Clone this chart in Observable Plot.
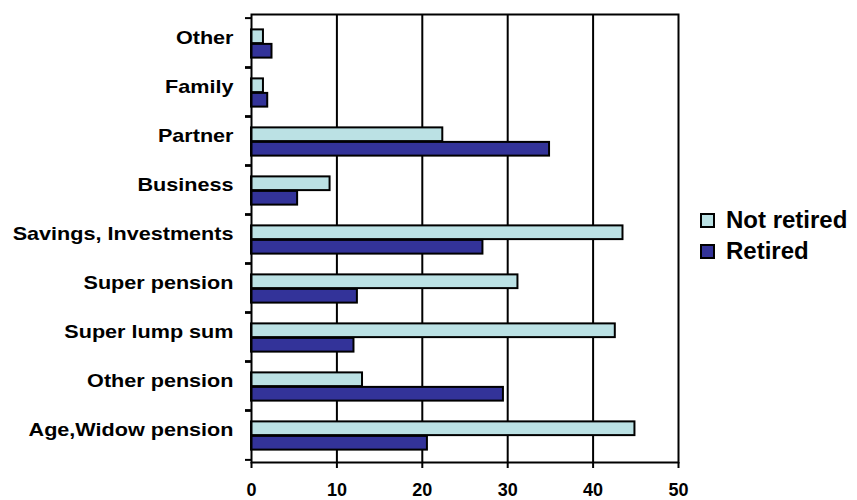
<!DOCTYPE html>
<html>
<head>
<meta charset="utf-8">
<script src="https://cdn.jsdelivr.net/npm/d3@7"></script>
<script src="https://cdn.jsdelivr.net/npm/@observablehq/plot@0.6"></script>
<style>
  html, body { margin: 0; padding: 0; background: #fff; }
  #wrap { position: relative; width: 857px; height: 500px; font-family: "Liberation Sans", Arial, sans-serif; }
  .legend { position: absolute; left: 700px; top: 204px; }
  .legend .row { display: flex; align-items: center; height: 31px; font-weight: bold; font-size: 24px; color: #000; }
  .legend .sw { width: 11px; height: 11px; border: 2px solid #000; margin-right: 11px; flex: none; position: relative; top: 1px; }
</style>
</head>
<body>
<div id="wrap"></div>
<script>
// Income sources, listed top to bottom
const categories = [
  "Other", "Family", "Partner", "Business", "Savings, Investments",
  "Super pension", "Super lump sum", "Other pension", "Age,Widow pension"
];
const notRetired = [1.4, 1.4, 22.4, 9.2, 43.5, 31.2, 42.6, 13.0, 44.9];
const retired    = [2.4, 1.9, 34.9, 5.4, 27.1, 12.4, 12.0, 29.5, 20.6];
const seriesNames = ["Not retired", "Retired"];
const seriesColors = ["#BBE1E4", "#333399"];
const xTicks = [0, 10, 20, 30, 40, 50];

const rows = categories.map((c, i) => ({category: c, notRetired: notRetired[i], retired: retired[i]}));

const W = 857, H = 500;
const mt = 14, mb = 38, ml = 251, mr = 179;
const band = (H - mt - mb) / categories.length;   // one category row
const barH = 14.5;                                 // one bar's thickness
const shift = 1;                                   // pair sits slightly below centre

const font = {fontFamily: "Liberation Sans, Arial, sans-serif"};

const chart = Plot.plot({
  width: W,
  height: H,
  marginTop: mt,
  marginBottom: mb,
  marginLeft: ml,
  marginRight: mr,
  style: {fontFamily: font.fontFamily, color: "#000", background: "#fff"},
  x: {domain: [0, 50], ticks: xTicks},
  y: {domain: categories, padding: 0},
  marks: [
    Plot.gridX(xTicks.slice(1, -1), {stroke: "#000", strokeOpacity: 1, strokeWidth: 2}),
    Plot.barX(rows, {
      y: "category", x: "notRetired",
      fill: seriesColors[0], stroke: "#000", strokeWidth: 2,
      insetTop: band / 2 + shift - barH, insetBottom: band / 2 - shift
    }),
    Plot.barX(rows, {
      y: "category", x: "retired",
      fill: seriesColors[1], stroke: "#000", strokeWidth: 2,
      insetTop: band / 2 + shift, insetBottom: band / 2 - shift - barH
    }),
    Plot.frame({stroke: "#000", strokeWidth: 2}),
    Plot.axisX({
      ticks: xTicks, tickSize: 6, tickPadding: 15, strokeWidth: 2,
      fontSize: 18, fontWeight: "bold", label: null
    }),
    // category labels
    Plot.axisY({tickSize: 0, tickPadding: 18, fontSize: 18, fontWeight: "bold", label: null, dy: 1}),
    // short marks at the row boundaries
    Plot.axisY({tickSize: 6, strokeWidth: 2, tickFormat: () => "", label: null, dy: -band / 2}),
    Plot.axisY({tickSize: 6, strokeWidth: 2, tickFormat: () => "", label: null, dy: band / 2})
  ]
});

// widen the category labels (the chart uses a broad bold face)
d3.select(chart).selectAll('g[aria-label="y-axis tick label"] text').each(function () {
  const t = this.getAttribute("transform") || "";
  const x = +this.getAttribute("x") || 0;
  const y = +this.getAttribute("y") || 0;
  this.removeAttribute("x");
  this.removeAttribute("y");
  this.setAttribute("transform", `${t} translate(${x},${y}) scale(1.2,1)`);
});

const wrap = document.getElementById("wrap");
wrap.appendChild(chart);

const legend = document.createElement("div");
legend.className = "legend";
seriesNames.forEach((name, i) => {
  const row = document.createElement("div");
  row.className = "row";
  const sw = document.createElement("span");
  sw.className = "sw";
  sw.style.background = seriesColors[i];
  const label = document.createElement("span");
  label.textContent = name;
  row.appendChild(sw);
  row.appendChild(label);
  legend.appendChild(row);
});
wrap.appendChild(legend);
</script>
</body>
</html>
